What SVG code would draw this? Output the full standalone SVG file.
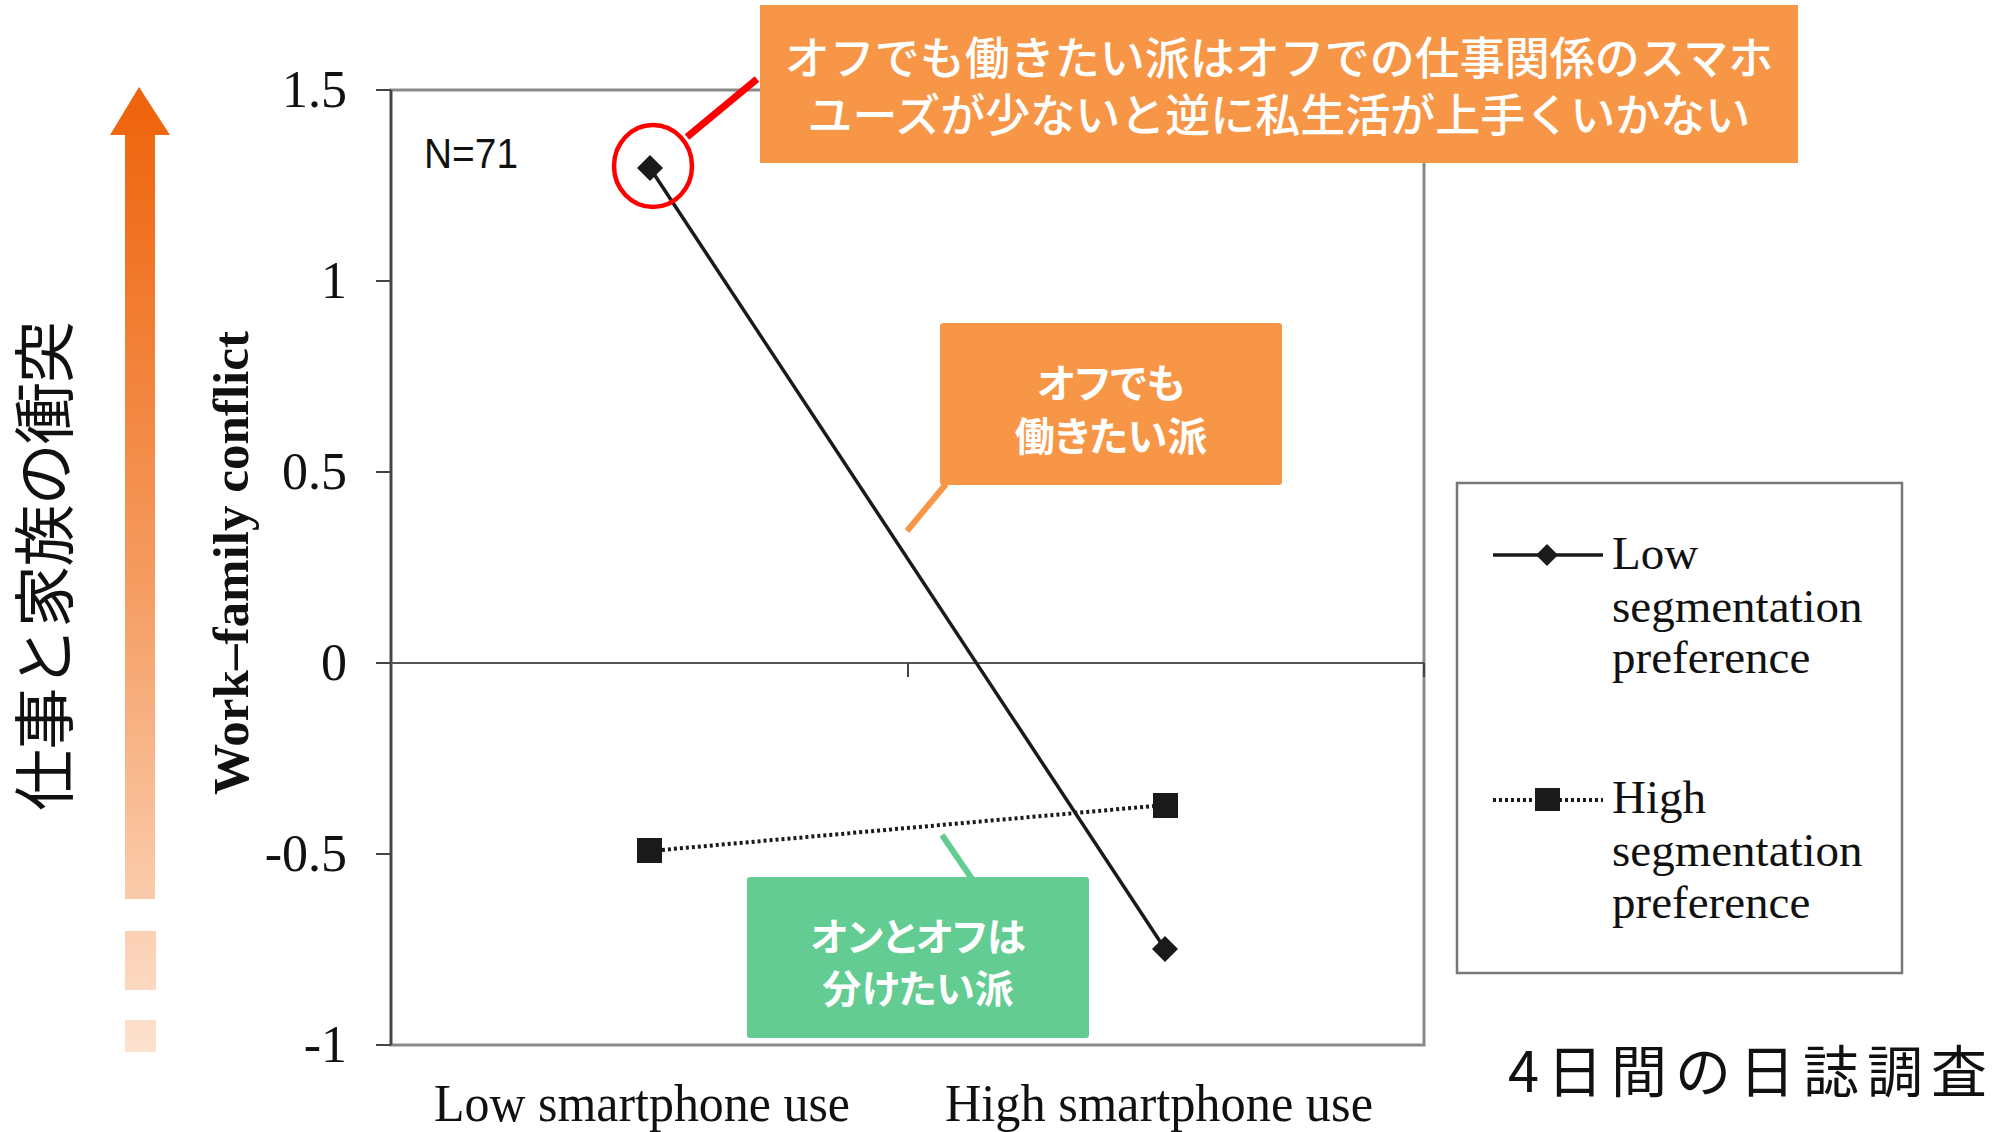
<svg xmlns="http://www.w3.org/2000/svg" width="2011" height="1132" viewBox="0 0 2011 1132">
<style>
.serif{font-family:"Liberation Serif","Times New Roman",serif;fill:#111}
.ytick{font-size:52px;text-anchor:end}
.xlab{font-size:52px;text-anchor:middle}
.leg{font-size:47px}
.jp{font-family:"Noto Sans CJK JP","Noto Sans",sans-serif}
.wt{fill:#fff;text-anchor:middle}
.bold{font-weight:700;font-feature-settings:"palt"}
.tick{stroke:#444;stroke-width:2}
.low{stroke:#1a1a1a;stroke-width:3.5;fill:none}
.high{stroke:#1a1a1a;stroke-width:4;stroke-dasharray:3 3;fill:none}
.mk{fill:#1a1a1a}
</style>
<defs>
<linearGradient id="grad" x1="0" y1="87" x2="0" y2="1052" gradientUnits="userSpaceOnUse">
<stop offset="0" stop-color="#EE6209"/>
<stop offset="0.5" stop-color="#F59A5E"/>
<stop offset="1" stop-color="#FDE2CF"/>
</linearGradient>
</defs>
<rect width="2011" height="1132" fill="#fff"/>

<g id="gradient-arrow" fill="url(#grad)">
<polygon points="139,87 170,135 155,135 155,899 125,899 125,135 110,135"/>
<rect x="125" y="931" width="31" height="59"/>
<rect x="125" y="1020" width="31" height="32"/>
</g>
<g id="vertical-label">
<text class="jp" font-size="62" text-anchor="middle" transform="translate(68,566) rotate(-90)" fill="#111" textLength="490" lengthAdjust="spacing">仕事と家族の衝突</text>
</g>

<g id="plot">
<rect x="391" y="90" width="1033" height="955" fill="none" stroke="#8a8a8a" stroke-width="3"/>
<line x1="391" y1="90" x2="391" y2="1045" stroke="#444" stroke-width="2.5"/>
<line x1="391" y1="663" x2="1424" y2="663" stroke="#555" stroke-width="2"/>
<line class="tick" x1="376" y1="90" x2="391" y2="90"/>
<line class="tick" x1="376" y1="281" x2="391" y2="281"/>
<line class="tick" x1="376" y1="472" x2="391" y2="472"/>
<line class="tick" x1="376" y1="663" x2="391" y2="663"/>
<line class="tick" x1="376" y1="854" x2="391" y2="854"/>
<line class="tick" x1="376" y1="1045" x2="391" y2="1045"/>
<line class="tick" x1="908" y1="663" x2="908" y2="677"/>
<line class="tick" x1="1424" y1="663" x2="1424" y2="677"/>
<text class="serif ytick" x="347" y="107">1.5</text>
<text class="serif ytick" x="347" y="298">1</text>
<text class="serif ytick" x="347" y="489">0.5</text>
<text class="serif ytick" x="347" y="680">0</text>
<text class="serif ytick" x="347" y="871">-0.5</text>
<text class="serif ytick" x="347" y="1062">-1</text>
<text class="serif xlab" x="642" y="1121" textLength="416" lengthAdjust="spacingAndGlyphs">Low smartphone use</text>
<text class="serif xlab" x="1159" y="1121" textLength="428" lengthAdjust="spacingAndGlyphs">High smartphone use</text>
<text class="serif" font-size="50" font-weight="700" text-anchor="middle" transform="translate(248,563) rotate(-90)" textLength="464" lengthAdjust="spacingAndGlyphs">Work–family conflict</text>
<text x="424" y="168" font-family="Liberation Sans, Arial, sans-serif" font-size="42" fill="#111" textLength="94" lengthAdjust="spacingAndGlyphs">N=71</text>
</g>

<g id="connectors">
<line class="low" x1="650" y1="168" x2="1165" y2="949"/>
<line class="high" x1="650" y1="851" x2="1165" y2="805"/>
<polygon class="mk" points="650,155 663,168 650,181 637,168"/>
<polygon class="mk" points="1165,936 1178,949 1165,962 1152,949"/>
<rect class="mk" x="637" y="838" width="25" height="25"/>
<rect class="mk" x="1153" y="793" width="25" height="25"/>
<ellipse cx="653" cy="166" rx="39" ry="41" fill="none" stroke="#FF0000" stroke-width="4.5"/>
<line x1="687" y1="137" x2="757" y2="79" stroke="#FF0000" stroke-width="7"/>
<line x1="946" y1="484" x2="907" y2="531" stroke="#F79646" stroke-width="6"/>
<line x1="972" y1="879" x2="942" y2="835" stroke="#62CC92" stroke-width="6"/>
</g>

<g id="callout-top">
<rect x="760" y="5" width="1038" height="158" fill="#F79646"/>
<text class="jp wt" x="1279" y="75" font-size="45" font-weight="500">オフでも働きたい派はオフでの仕事関係のスマホ</text>
<text class="jp wt" x="1279" y="132" font-size="45" font-weight="500">ユーズが少ないと逆に私生活が上手くいかない</text>
</g>

<g id="callout-orange">
<rect x="940" y="323" width="342" height="162" rx="3" fill="#F79646"/>
<text class="jp wt bold" x="1111" y="398" font-size="40">オフでも</text>
<text class="jp wt bold" x="1111" y="451" font-size="40">働きたい派</text>
</g>

<g id="callout-green">
<rect x="747" y="877" width="342" height="161" rx="3" fill="#62CC92"/>
<text class="jp wt bold" x="918" y="951" font-size="39">オンとオフは</text>
<text class="jp wt bold" x="918" y="1003" font-size="39">分けたい派</text>
</g>

<g id="legend">
<rect x="1457" y="483" width="445" height="490" fill="#fff" stroke="#777" stroke-width="2.5"/>
<line class="low" x1="1493" y1="555" x2="1603" y2="555"/>
<polygon class="mk" points="1547,544 1558,555 1547,566 1536,555"/>
<text class="serif leg" x="1612" y="569">Low</text>
<text class="serif leg" x="1612" y="622">segmentation</text>
<text class="serif leg" x="1612" y="673">preference</text>
<line class="high" x1="1493" y1="800" x2="1603" y2="800"/>
<rect class="mk" x="1535" y="788" width="25" height="23"/>
<text class="serif leg" x="1612" y="813">High</text>
<text class="serif leg" x="1612" y="866">segmentation</text>
<text class="serif leg" x="1612" y="918">preference</text>
</g>

<g id="note">
<text class="jp" x="1508" y="1092" font-size="56" letter-spacing="8" fill="#111">4日間の日誌調査</text>
</g>
</svg>
